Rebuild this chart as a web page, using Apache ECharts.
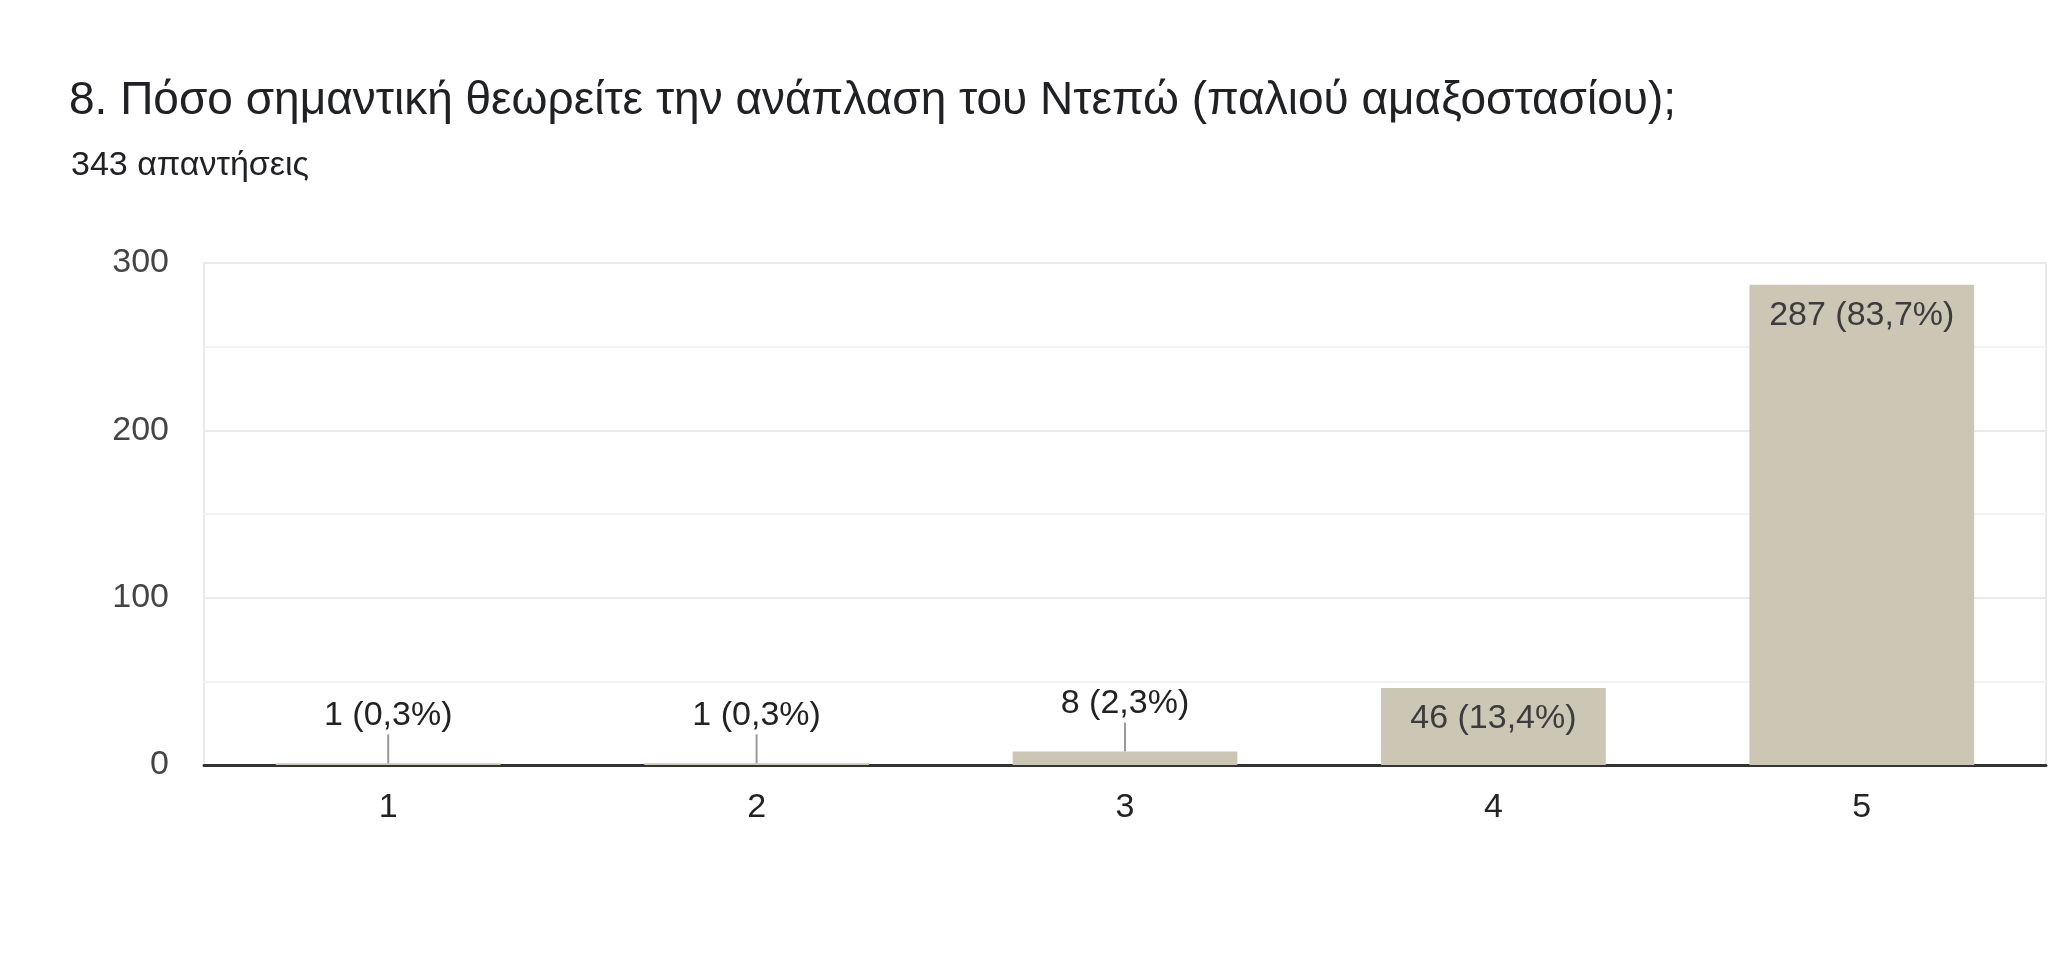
<!DOCTYPE html>
<html>
<head>
<meta charset="utf-8">
<script src="https://cdn.jsdelivr.net/npm/echarts@6/dist/echarts.min.js"></script>
<style>
  html, body { margin: 0; padding: 0; background: #fff; }
  #chart { width: 2048px; height: 974px; }
</style>
</head>
<body>
<div id="chart"></div>
<script>
// data
const categories = ['1', '2', '3', '4', '5'];
const counts = [1, 1, 8, 46, 287];
const totalAnswers = 343;
const yTicks = [0, 100, 200, 300];

const barColor = '#ccc6b5';
const font = '"Liberation Sans", Arial, sans-serif';

function labelText(v) {
    let pct = (v / totalAnswers * 100).toFixed(1).replace('.', ',');
    return v + ' (' + pct + '%)';
}

let chart = echarts.init(document.getElementById('chart'));

const option = {
    animation: false,
    backgroundColor: '#fff',
    title: [
        {
            text: '8. Πόσο σημαντική θεωρείτε την ανάπλαση του Ντεπώ (παλιού αμαξοστασίου);',
            left: 64,
            top: 73,
            textStyle: { fontFamily: font, fontSize: 46, fontWeight: 'normal', color: '#202124' }
        },
        {
            text: totalAnswers + ' απαντήσεις',
            left: 66,
            top: 144,
            textStyle: { fontFamily: font, fontSize: 34, fontWeight: 'normal', color: '#202124' }
        }
    ],
    grid: {
        left: 204,
        right: 2,
        top: 263,
        bottom: 209,
        show: true,
        borderColor: '#e9e9e9',
        borderWidth: 2
    },
    xAxis: {
        type: 'category',
        data: categories,
        axisTick: { show: false },
        axisLine: { lineStyle: { color: '#333', width: 3 } },
        axisLabel: { margin: 26, fontFamily: font, fontSize: 34, color: '#222' }
    },
    yAxis: {
        type: 'value',
        min: yTicks[0],
        max: yTicks[yTicks.length - 1],
        interval: 100,
        axisLine: { show: false },
        axisTick: { show: false },
        axisLabel: { margin: 35, fontFamily: font, fontSize: 34, color: '#444' },
        splitLine: { lineStyle: { color: '#e9e9e9', width: 2 } },
        minorTick: { show: false, splitNumber: 2 },
        minorSplitLine: { show: true, lineStyle: { color: '#f3f3f3', width: 2 } }
    },
    series: [
        {
            type: 'bar',
            data: counts,
            barWidth: '61%',
            itemStyle: { color: barColor },
            z: 2
        },
        {
            // value labels: inside the bar when it is tall, above with a leader line otherwise
            type: 'custom',
            data: counts.map((v, i) => [i, v]),
            z: 5,
            renderItem: function (params, api) {
                let top = api.coord([api.value(0), api.value(1)]);
                let base = api.coord([api.value(0), 0]);
                let txt = labelText(api.value(1));
                if (base[1] - top[1] > 60) {
                    return {
                        type: 'text',
                        style: {
                            text: txt, x: top[0], y: top[1] + 31,
                            align: 'center', verticalAlign: 'middle',
                            font: '34px ' + font, fill: '#3c3c3c'
                        }
                    };
                }
                return {
                    type: 'group',
                    children: [
                        {
                            type: 'line',
                            shape: { x1: top[0], y1: top[1], x2: top[0], y2: top[1] - 29 },
                            style: { stroke: '#999', lineWidth: 2 }
                        },
                        {
                            type: 'text',
                            style: {
                                text: txt, x: top[0], y: top[1] - 48,
                                align: 'center', verticalAlign: 'middle',
                                font: '34px ' + font, fill: '#222'
                            }
                        }
                    ]
                };
            }
        }
    ]
};

chart.setOption(option);
</script>
</body>
</html>
